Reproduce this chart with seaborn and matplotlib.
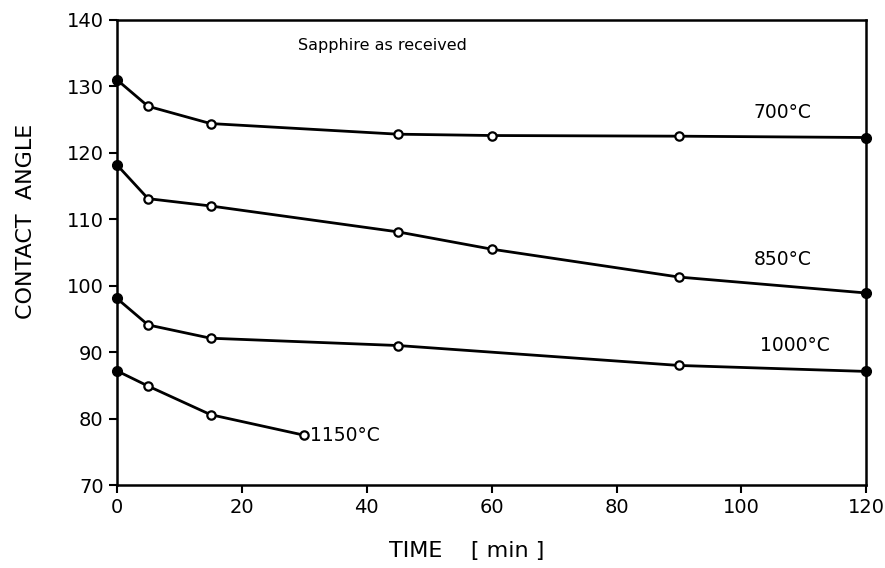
import numpy as np
import pandas as pd
import matplotlib
matplotlib.use("Agg")
import matplotlib.pyplot as plt
import seaborn as sns

# data
t_700 = [0, 5, 15, 45, 60, 90, 120]
a_700 = [131.0, 127.0, 124.4, 122.8, 122.6, 122.5, 122.3]

t_850 = [0, 5, 15, 45, 60, 90, 120]
a_850 = [118.2, 113.1, 112.0, 108.1, 105.5, 101.3, 98.9]

t_1000 = [0, 5, 15, 45, 90, 120]
a_1000 = [98.1, 94.1, 92.1, 91.0, 88.0, 87.1]

t_1150 = [0, 5, 15, 30]
a_1150 = [87.2, 84.9, 80.6, 77.5]

series = [("700°C", t_700, a_700), ("850°C", t_850, a_850),
          ("1000°C", t_1000, a_1000), ("1150°C", t_1150, a_1150)]

frames = []
for name, t, a in series:
    frames.append(pd.DataFrame({"time": t, "angle": a, "temp": name}))
df = pd.concat(frames, ignore_index=True)
# end points measured at t=0 and t=120 are drawn filled
df["filled"] = df["time"].isin([0, 120])

sns.set_theme(style="ticks")
plt.rcParams["font.family"] = ["DejaVu Sans"]
plt.rcParams["text.color"] = "black"
plt.rcParams["axes.labelcolor"] = "black"
plt.rcParams["xtick.color"] = "black"
plt.rcParams["ytick.color"] = "black"

fig = plt.figure(figsize=(8.85, 5.68), dpi=100)
ax = fig.add_axes([0.132, 0.146, 0.847, 0.819])

sns.lineplot(data=df, x="time", y="angle", units="temp", estimator=None,
             color="black", linewidth=2.0, ax=ax, legend=False, sort=False)
ax.plot(df.loc[~df["filled"], "time"], df.loc[~df["filled"], "angle"], "o",
        ms=6, mfc="white", mec="black", mew=1.6, clip_on=False, zorder=3)
ax.plot(df.loc[df["filled"], "time"], df.loc[df["filled"], "angle"], "o",
        ms=7, mfc="black", mec="black", clip_on=False, zorder=3)

ax.set_xlim(0, 120)
ax.set_ylim(70, 140)
ax.set_xticks(np.arange(0, 121, 20))
ax.set_yticks(np.arange(70, 141, 10))
ax.tick_params(direction="out", length=6, width=1.5, labelsize=14)
for s in ax.spines.values():
    s.set_linewidth(1.8)
    s.set_color("black")
    s.set_visible(True)

ax.set_xlabel("TIME    [ min ]", fontsize=16, labelpad=16)
ax.xaxis.set_label_coords(0.467, -0.12)
ax.set_ylabel("CONTACT  ANGLE", fontsize=16, labelpad=22)
ax.yaxis.set_label_coords(-0.108, 0.566)

ax.text(29, 136.2, "Sapphire as received", fontsize=11.5, va="center")
ax.text(102, 126.0, "700°C", fontsize=13.5, va="center")
ax.text(102, 103.9, "850°C", fontsize=13.5, va="center")
ax.text(103, 91.0, "1000°C", fontsize=13.5, va="center")
ax.text(31, 77.5, "1150°C", fontsize=13.5, va="center")

fig.savefig("out.png", dpi=100)
